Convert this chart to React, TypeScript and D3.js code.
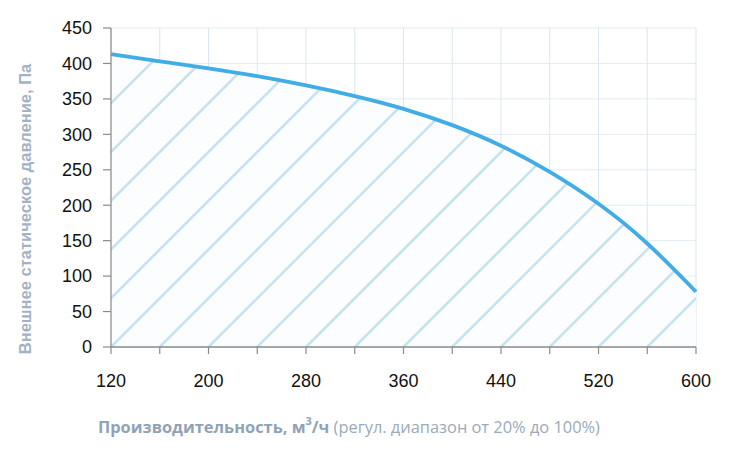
import React from 'react';
import * as d3 from 'd3';

const flow = [120, 160, 200, 240, 280, 320, 360, 400, 440, 480, 520, 560, 600];
const pressure = [413, 403, 393, 382, 369, 354, 336, 313, 284, 247, 202, 146, 78];
const xGridTicks = [120, 160, 200, 240, 280, 320, 360, 400, 440, 480, 520, 560, 600];
const xLabelTicks = [120, 200, 280, 360, 440, 520, 600];
const yTicks = [0, 50, 100, 150, 200, 250, 300, 350, 400, 450];

const W = 730;
const H = 456;
const margin = { top: 28, right: 34, bottom: 109, left: 111 };

export default function App() {
  const x = d3.scaleLinear().domain([120, 600]).range([margin.left, W - margin.right]);
  const y = d3.scaleLinear().domain([0, 450]).range([H - margin.bottom, margin.top]);
  const pts = flow.map((f, i) => [f, pressure[i]] as [number, number]);

  const line = d3.line<[number, number]>()
    .x(d => x(d[0]))
    .y(d => y(d[1]))
    .curve(d3.curveNatural);
  const area = d3.area<[number, number]>()
    .x(d => x(d[0]))
    .y0(y(0))
    .y1(d => y(d[1]))
    .curve(d3.curveNatural);

  // hatch lines at 45deg, one per x grid step
  const step = x(160) - x(120);
  const hatch = d3.range(-8, 14).map(k => x(120) + k * step);
  const bottom = y(0);
  const span = 400;

  return (
    <div style={{ position: 'absolute', left: 0, top: 0 }}>
      <svg width={W} height={H} style={{ display: 'block', background: '#fff' }}>
        <defs>
          <clipPath id="under">
            <path d={area(pts) || ''} />
          </clipPath>
        </defs>
        {yTicks.map(t => (
          <line key={'gy' + t} x1={x(120)} x2={x(600)} y1={y(t)} y2={y(t)} stroke="#e2ebf4" strokeWidth={1} />
        ))}
        {xGridTicks.map(t => (
          <line key={'gx' + t} x1={x(t)} x2={x(t)} y1={y(0)} y2={y(450)} stroke="#dbe6f1" strokeWidth={1} />
        ))}
        <path d={area(pts) || ''} fill="#fbfdfe" />
        <g clipPath="url(#under)">
          {hatch.map((h, i) => (
            <line key={'h' + i} x1={h} y1={bottom} x2={h + span} y2={bottom - span}
              stroke="#c4e3ee" strokeWidth={2.5} />
          ))}
        </g>
        <path d={line(pts) || ''} fill="none" stroke="#41ade4" strokeWidth={3.8} />
        <line x1={x(120)} x2={x(120)} y1={y(0)} y2={y(450)} stroke="#8a8a8a" strokeWidth={1.2} />
        <line x1={x(120)} x2={x(600)} y1={y(0)} y2={y(0)} stroke="#8a8a8a" strokeWidth={1.5} />
        {yTicks.map(t => (
          <g key={'yt' + t}>
            <line x1={x(120) - 8} x2={x(120)} y1={y(t)} y2={y(t)} stroke="#8a8a8a" strokeWidth={1.2} />
            <text x={92} y={y(t)} dy="0.35em" textAnchor="end" fontFamily="Liberation Sans, Arial, sans-serif" fontSize={18} fill="#111">{t}</text>
          </g>
        ))}
        {xGridTicks.map(t => (
          <line key={'xt' + t} x1={x(t)} x2={x(t)} y1={y(0)} y2={y(0) + 7} stroke="#8a8a8a" strokeWidth={1.2} />
        ))}
        {xLabelTicks.map(t => (
          <text key={'xl' + t} x={x(t)} y={387} textAnchor="middle" fontFamily="Liberation Sans, Arial, sans-serif" fontSize={18} fill="#111">{t}</text>
        ))}
        <text transform={`translate(31,${209}) rotate(-90)`} textAnchor="middle"
          fontFamily="Liberation Sans, Arial, sans-serif" fontSize={16.5} fontWeight="bold" fill="#a3b2c2">
          Внешнее статическое давление, Па
        </text>
        <text x={98} y={433} fontFamily="Open Sans, Noto Sans, sans-serif" fontSize={16.4} fill="#9aaabb">
          <tspan fontWeight="bold" fill="#90a3b6">Производительность, м</tspan>
          <tspan fontWeight="bold" fill="#90a3b6" fontSize={11} dy={-8}>3</tspan>
          <tspan fontWeight="bold" fill="#90a3b6" dy={8}>/ч</tspan>
          <tspan> (регул. диапазон от 20% до 100%)</tspan>
        </text>
      </svg>
    </div>
  );
}
